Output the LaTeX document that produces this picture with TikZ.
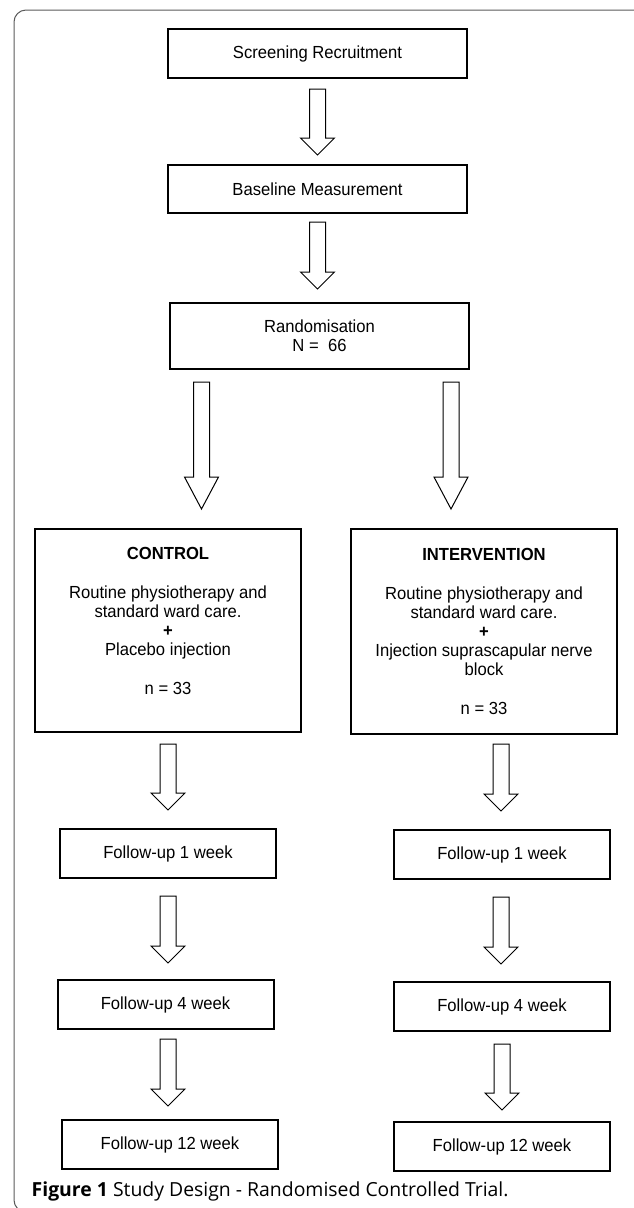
\documentclass[tikz,border=0pt]{standalone}
\usepackage{fontspec}
\setmainfont{Liberation Sans}[FakeStretch=0.95]
\newfontfamily\capfont{Open Sans}
\usetikzlibrary{positioning,calc}
\definecolor{rim}{HTML}{5A5A5A}

% hollow block arrow: start (top), end (tip)
\newcommand{\blkarrow}[3][17pt]{%
  \draw[blk] let \p1=(#2), \p2=(#3) in
    (\x1-8pt,\y1) -- (\x1-8pt,\y2+#1) -- (\x1-17pt,\y2+#1) -- (\x1,\y2)
    -- (\x1+17pt,\y2+#1) -- (\x1+8pt,\y2+#1) -- (\x1+8pt,\y1) -- cycle;}

\begin{document}
\begin{tikzpicture}[
      x=1pt, y=-1pt,
      font=\fontsize{17.5}{19.2}\selectfont,
      box/.style={rectangle, draw=black, line width=2pt, minimum width=299pt,
                  minimum height=49pt, align=center, inner sep=2pt},
      grpbox/.style={box, minimum width=266pt, minimum height=203pt},
      fubox/.style={box, minimum width=216pt},
      blk/.style={draw=black, fill=white, line width=1pt, line join=miter}
    ]
      \useasboundingbox (0,0) rectangle (633,1208);
      \draw[rim, line width=1pt, rounded corners=12pt] (14,10) rectangle (645,1212);

      \node[box] (scr) at (317.5,53.5) {Screening Recruitment};
      \node[box, below=85pt of scr, minimum height=48pt] (base) {Baseline Measurement};
      \node[box, below=88pt of base, xshift=2pt, minimum height=66pt] (rand) {Randomisation\\N = \ 66};

      \node[grpbox] (ctrl) at (168,630.5) {\textbf{CONTROL}\\ \mbox{}\\Routine physiotherapy and\\standard ward care.\\\textbf{+}\\Placebo injection\\ \mbox{}\\n = 33\\ \mbox{}};
      \node[grpbox, minimum height=205pt] (intv) at (484,631.5) {\textbf{INTERVENTION}\\ \mbox{}\\Routine physiotherapy and\\standard ward care.\\\textbf{+}\\Injection suprascapular nerve\\block\\ \mbox{}\\n = 33};

      \node[fubox, below=95pt of ctrl] (fuA1) {Follow-up 1 week};
      \node[fubox, below=94pt of intv, xshift=18pt] (fuB1) {Follow-up 1 week};
      \node[fubox, below=100pt of fuA1, xshift=-2.5pt] (fuA4) {Follow-up 4 week};
      \node[fubox, below=101pt of fuB1] (fuB4) {Follow-up 4 week};
      \node[fubox, below=89pt of fuA4, xshift=4.5pt] (fuA12) {Follow-up 12 week};
      \node[fubox, below=89pt of fuB4] (fuB12) {Follow-up 12 week};

      \blkarrow{[yshift=-10pt]scr.south}{[yshift=9pt]base.north}
      \blkarrow{[yshift=-8pt]base.south}{[yshift=13pt]rand.north}
      \blkarrow[32pt]{[xshift=-118pt,yshift=-12pt]rand.south}{[yshift=19pt]ctrl.north}
      \blkarrow[32pt]{[xshift=131.5pt,yshift=-12pt]rand.south}{[yshift=19pt]intv.north}
      \blkarrow{[yshift=-11pt]ctrl.south}{[yshift=18pt]fuA1.north}
      \blkarrow{[xshift=17pt,yshift=-9pt]intv.south}{[yshift=18pt]fuB1.north}
      \blkarrow{[yshift=-17pt]fuA1.south}{[yshift=16pt]fuA4.north}
      \blkarrow{[xshift=-1pt,yshift=-17pt]fuB1.south}{[yshift=17pt]fuB4.north}
      \blkarrow{[xshift=2.5pt,yshift=-9pt]fuA4.south}{[yshift=13pt]fuA12.north}
      \blkarrow{[yshift=-12pt]fuB4.south}{[yshift=11pt]fuB12.north}

      \node[anchor=base west, inner sep=0pt, font=\capfont\fontsize{19.4}{21}\selectfont] (cap) at (31.5,1196)
        {\textbf{Figure 1} Study Design - Randomised Controlled Trial.};
    \end{tikzpicture}
\end{document}
